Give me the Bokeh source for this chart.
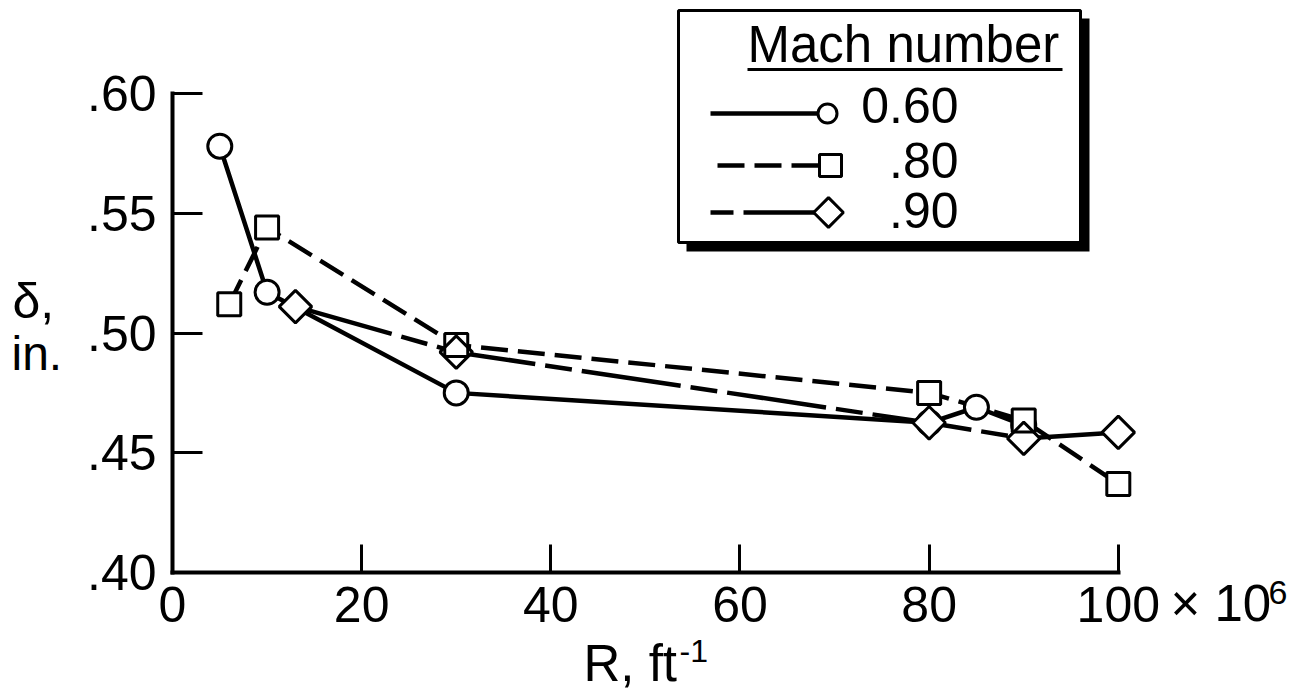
import numpy as np
from bokeh.plotting import figure
from bokeh.models import Range1d, FixedTicker, Label
from bokeh.embed import file_html
from bokeh.resources import INLINE

# Boundary-layer thickness (in.) against unit Reynolds number (ft^-1, x 10^6)
mach_labels = ["0.60", ".80", ".90"]

r_m060 = [5, 10, 30, 80, 85, 90]
d_m060 = [0.578, 0.517, 0.475, 0.4625, 0.469, 0.4615]

r_m080 = [6, 10, 30, 80, 90, 100]
d_m080 = [0.512, 0.544, 0.495, 0.475, 0.4635, 0.437]

r_m090 = [13, 30, 80, 90, 100]
d_m090 = [0.511, 0.492, 0.4625, 0.456, 0.4585]

x_ticks = [0, 20, 40, 60, 80, 100]
y_ticks = [0.40, 0.45, 0.50, 0.55, 0.60]
y_tick_labels = [".40", ".45", ".50", ".55", ".60"]

# ---- canvas geometry: the frame fills the canvas, axes sit at R=0 / delta=.40
W, H = 1312, 700
ORIGIN_X = 172      # canvas x of R = 0
ORIGIN_Y = 572      # canvas y of delta = .40
SX = 9.458          # px per unit of R
SY = 2395.0         # px per inch of delta

FONT = "Liberation Sans"
INK = "black"


def cx(px):
    """canvas x -> data x"""
    return (px - ORIGIN_X) / SX


def cy(py):
    """canvas y -> data y"""
    return 0.40 + (ORIGIN_Y - py) / SY


p = figure(width=W, height=H,
           x_range=Range1d(cx(0), cx(W)), y_range=Range1d(cy(H), cy(0)),
           output_backend="svg", toolbar_location=None,
           min_border=0, min_border_left=0, min_border_right=0,
           min_border_top=0, min_border_bottom=0)
p.outline_line_color = None
p.xgrid.visible = False
p.ygrid.visible = False
p.background_fill_color = "white"
p.border_fill_color = "white"

# ---- axes ---------------------------------------------------------------
for ax in (p.xaxis[0], p.yaxis[0]):
    ax.axis_line_width = 4
    ax.axis_line_color = INK
    ax.axis_line_cap = "square"
    ax.major_tick_line_width = 3
    ax.major_tick_line_color = INK
    ax.major_tick_out = 0
    ax.minor_tick_line_color = None
    ax.major_label_text_font = FONT
    ax.major_label_text_font_size = "50px"
    ax.major_label_text_color = INK

xa = p.xaxis[0]
xa.fixed_location = 0.40
xa.ticker = FixedTicker(ticks=x_ticks)
xa.bounds = (0, 100)
xa.major_tick_in = 28
xa.major_label_standoff = 14

ya = p.yaxis[0]
ya.fixed_location = 0
ya.ticker = FixedTicker(ticks=y_ticks)
ya.bounds = (0.40, 0.60)
ya.major_tick_in = 30
ya.major_label_standoff = 16
ya.major_label_overrides = dict(zip(y_ticks, y_tick_labels))

# ---- data lines ---------------------------------------------------------
LW = 4.5
DASH_080 = "27 10"
DASH_090 = "100 10 27 10"
p.line(r_m060, d_m060, line_color=INK, line_width=LW)
p.line(r_m080, d_m080, line_color=INK, line_width=LW, line_dash=DASH_080)
p.line(r_m090, d_m090, line_color=INK, line_width=LW, line_dash=DASH_090)

# ---- symbols: white fills hide the lines inside, outlines on top --------
MW = 3
p.scatter(r_m060, d_m060, marker="circle", size=24,
          fill_color="white", line_color=INK, line_width=MW)
p.scatter(r_m080, d_m080, marker="square", size=23,
          fill_color="white", line_color=None)
p.scatter(r_m090, d_m090, marker="square", size=23, angle=np.pi / 4,
          fill_color="white", line_color=None)
p.scatter(r_m080, d_m080, marker="square", size=23,
          fill_color=None, line_color=INK, line_width=MW)
p.scatter(r_m090, d_m090, marker="square", size=23, angle=np.pi / 4,
          fill_color=None, line_color=INK, line_width=MW)

# ---- key box with drop shadow ------------------------------------------
p.quad(left=[cx(686)], right=[cx(1089)], top=[cy(18)], bottom=[cy(251)],
       fill_color=INK, line_color=None)
p.quad(left=[cx(678)], right=[cx(1080)], top=[cy(10)], bottom=[cy(242)],
       fill_color="white", line_color=INK, line_width=3)


def add_text(px, py, text, size, align="left"):
    """Place text with its baseline at canvas (px, py)."""
    p.add_layout(Label(x=cx(px), y=cy(py), text=text,
                       y_offset=0.4 * size,
                       text_font=FONT, text_font_size=f"{size}px",
                       text_color=INK, text_align=align,
                       text_baseline="alphabetic"))


add_text(747, 64, "Mach number", 51)
p.line([cx(747), cx(1062)], [cy(69), cy(69)], line_color=INK, line_width=3)

row_y = [113, 165, 212]
row_start = [710, 717, 710]
row_mark = [827, 830, 828]
row_base = [125, 180, 230]

p.line([cx(row_start[0]), cx(row_mark[0])], [cy(row_y[0])] * 2,
       line_color=INK, line_width=LW)
p.line([cx(row_start[1]), cx(row_mark[1])], [cy(row_y[1])] * 2,
       line_color=INK, line_width=LW, line_dash=DASH_080)
p.line([cx(row_start[2]), cx(row_mark[2])], [cy(row_y[2])] * 2,
       line_color=INK, line_width=LW, line_dash=DASH_090, line_dash_offset=114)

p.scatter([cx(row_mark[0])], [cy(row_y[0])], marker="circle", size=19,
          fill_color="white", line_color=INK, line_width=MW)
p.scatter([cx(row_mark[1])], [cy(row_y[1])], marker="square", size=22,
          fill_color="white", line_color=INK, line_width=MW)
p.scatter([cx(row_mark[2])], [cy(row_y[2])], marker="square", size=21,
          angle=np.pi / 4, fill_color="white", line_color=INK, line_width=MW)

for lab, base in zip(mach_labels, row_base):
    add_text(958, base, lab, 50, align="right")

# ---- axis titles --------------------------------------------------------
add_text(583, 683, "R, ft", 51)
add_text(679, 663, "-1", 32)
add_text(1170, 623, "\u00d7 10", 51)
add_text(1268, 606, "6", 34)
add_text(12, 320, "\u03b4,", 50)
add_text(11, 372, "in.", 48)

open("out.html", "w").write(file_html(p, INLINE))
